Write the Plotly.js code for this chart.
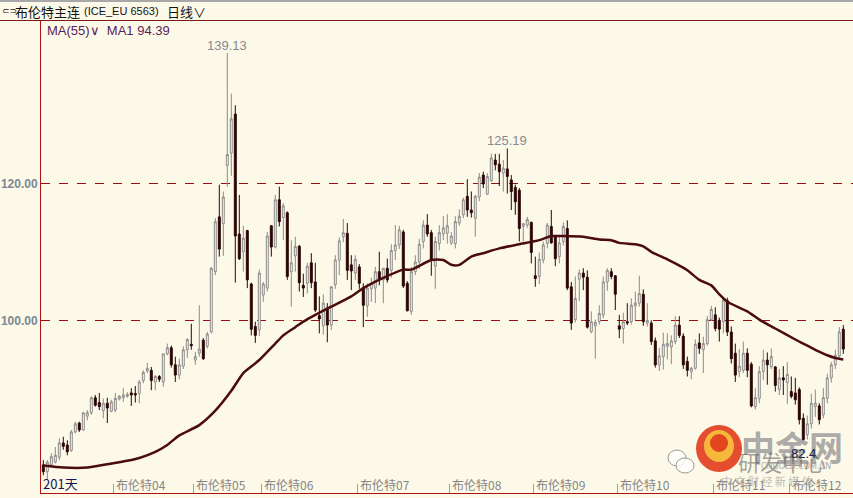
<!DOCTYPE html>
<html>
<head>
<meta charset="utf-8">
<script src="https://cdn.plot.ly/plotly-3.0.1.min.js"></script>
<style>
html,body{margin:0;padding:0;background:#FDF9E8;overflow:hidden;}
#chart{width:853px;height:498px;}
</style>
</head>
<body>
<div id="chart"></div>
<script>
// ---- Data ----
const openP = [79.0,78.0,79.0,79.4,80.1,82.2,81.9,81.1,83.8,85.1,84.1,86.1,86.6,88.8,88.1,86.9,88.0,86.8,87.0,88.6,
88.8,89.0,89.5,89.4,89.4,91.3,92.7,92.8,91.1,91.9,91.1,95.2,96.1,93.6,92.1,93.4,95.8,96.6,94.3,95.3,
97.2,96.3,98.4,107.2,115.2,114.2,122.7,124.5,130.2,112.7,110.1,113.2,105.4,99.2,98.7,103.8,104.8,113.9,110.8,117.7,
115.1,115.8,107.2,109.5,110.9,105.2,105.5,108.5,105.7,100.8,99.3,101.9,99.4,105.3,108.9,112.3,112.8,108.2,107.0,107.9,
104.8,102.2,104.7,104.8,107.2,106.0,107.7,107.4,110.3,111.1,113.0,105.5,101.4,107.2,108.6,111.6,114.0,112.9,108.0,111.3,
112.7,112.8,111.4,111.3,114.3,115.5,118.2,116.2,115.0,118.1,121.3,118.5,120.5,123.5,122.9,121.6,122.2,120.6,119.5,119.1,
113.8,114.0,114.4,106.6,106.5,108.9,111.3,113.8,112.3,109.4,111.6,113.5,105.0,100.2,106.1,107.0,106.4,98.4,99.3,99.9,
100.9,105.7,107.2,106.6,99.3,98.9,99.9,99.9,102.2,102.6,103.9,99.7,99.7,97.1,93.6,94.8,96.3,96.2,97.0,99.4,
97.8,94.1,92.6,93.1,96.8,95.8,96.7,100.2,100.9,100.1,99.9,103.0,98.4,95.3,92.6,92.8,95.3,93.7,87.5,88.7,
92.6,94.3,93.3,93.3,90.0,91.7,91.0,89.7,89.5,90.0,85.8,83.4,85.0,87.5,87.6,86.3,88.7,91.7,93.6,94.9,98.8];
const highP = [79.7,79.7,80.7,81.6,82.9,83.1,82.6,84.1,85.3,85.3,86.7,87.0,89.0,89.2,89.5,88.7,88.8,88.5,89.5,89.2,
90.2,89.6,90.2,90.5,91.4,92.8,93.9,93.3,92.1,92.1,95.2,96.7,96.4,94.8,94.5,96.3,97.5,99.6,95.5,102.3,
97.5,98.4,107.9,115.0,119.9,118.9,139.13,133.2,131.5,118.4,113.9,113.3,105.6,99.9,107.5,105.7,113.0,114.0,118.4,119.6,
117.2,116.0,111.8,112.3,111.1,106.9,108.5,109.9,108.5,103.6,103.9,102.6,105.0,109.6,112.2,114.9,114.3,109.6,109.6,108.3,
105.5,105.5,106.3,107.9,110.1,107.7,109.1,111.2,114.0,113.9,113.3,105.8,107.9,109.6,112.0,114.7,115.6,113.3,112.3,114.0,
115.3,115.6,113.0,115.3,116.3,118.0,120.7,118.9,118.4,121.6,121.8,121.6,124.4,124.4,124.4,123.5,125.19,121.3,119.9,119.4,
114.3,115.2,114.5,109.4,110.0,111.6,114.3,116.2,112.4,112.4,114.4,114.7,105.7,106.5,107.5,107.7,107.4,101.4,100.2,102.3,
106.5,107.7,107.7,106.7,100.9,101.2,102.6,103.3,104.3,106.6,104.6,102.6,100.1,97.6,96.1,98.3,98.2,97.9,100.7,100.7,
98.2,94.8,93.3,97.3,98.2,97.7,100.7,102.2,102.0,100.5,103.5,103.4,99.2,96.7,95.9,97.0,96.0,94.0,90.2,93.4,
95.8,95.4,96.0,93.4,93.0,93.4,94.0,91.9,91.7,90.3,86.5,86.2,89.4,90.0,88.0,90.2,92.3,94.0,95.8,99.1,99.4];
const lowP = [77.5,76.9,78.7,79.2,79.7,81.2,80.4,80.9,83.6,83.8,84.0,85.5,86.3,87.5,87.0,85.8,85.1,86.7,86.7,88.4,
88.2,88.8,87.6,88.1,88.0,90.9,92.4,89.9,89.9,91.1,90.4,95.0,93.2,91.1,91.5,93.0,94.6,95.8,93.6,94.8,
94.3,96.0,98.2,106.7,109.4,109.5,119.6,121.2,105.6,108.9,107.2,104.8,97.9,96.8,97.8,102.8,104.3,109.4,110.6,113.8,
111.8,106.0,102.1,107.2,104.3,103.5,104.0,104.8,101.3,98.2,98.0,96.9,98.7,104.7,106.7,111.5,106.0,104.5,106.0,104.7,
99.1,100.6,102.8,102.6,105.2,102.6,105.6,106.3,108.9,110.5,104.8,101.4,100.9,106.7,107.6,110.6,112.3,106.6,104.7,110.3,
111.8,111.3,111.1,110.6,113.9,115.0,115.2,115.1,112.3,117.5,119.4,118.4,120.3,122.0,119.7,118.9,118.6,116.2,115.5,111.6,
111.6,113.6,108.4,105.0,105.4,108.4,110.6,111.3,108.0,108.4,111.0,104.5,98.7,99.8,102.9,104.5,98.9,98.2,94.5,99.5,
100.4,104.4,106.1,101.6,97.5,96.7,99.4,99.5,100.1,102.1,99.3,99.2,96.5,93.2,92.7,92.9,94.4,93.7,96.6,97.5,
93.0,91.9,91.5,92.9,95.2,92.4,96.4,100.0,98.5,97.0,98.2,97.8,93.8,91.1,91.8,92.4,91.8,87.4,87.1,88.0,
91.4,90.7,93.0,89.7,89.2,89.2,87.9,88.7,87.8,84.9,82.4,82.7,84.3,86.0,84.9,85.8,88.0,91.0,93.0,94.6,95.2];
const closeP = [78.0,79.4,80.2,80.4,82.2,81.7,80.9,83.8,85.0,84.1,86.6,86.6,88.8,87.7,87.5,88.0,87.3,88.2,88.7,89.0,
89.2,89.3,89.2,89.2,91.1,92.5,93.1,91.3,91.9,91.5,95.2,96.1,93.6,92.1,93.6,95.8,97.3,96.4,94.8,95.9,
94.5,98.1,107.7,114.5,110.5,118.1,124.3,129.5,112.4,109.1,112.1,106.0,98.8,97.9,107.0,105.4,112.4,110.8,117.7,114.5,
116.8,106.5,108.5,110.9,105.6,104.8,108.0,105.6,101.6,100.3,102.6,99.4,105.0,108.9,111.7,112.9,107.4,107.3,109.0,105.5,
102.3,104.8,105.5,107.2,106.0,107.7,106.0,110.3,111.1,113.3,105.1,101.5,107.2,108.6,111.2,114.0,112.7,109.0,111.6,112.9,
113.6,113.9,112.4,114.5,115.3,117.7,116.2,115.8,118.2,121.0,120.0,121.1,123.8,122.8,121.8,122.3,121.1,118.9,117.4,113.5,
114.2,114.8,110.0,106.2,109.0,111.1,114.0,111.4,109.1,111.4,113.8,104.8,99.7,103.3,107.0,106.4,99.1,99.9,99.8,101.1,
105.7,107.4,106.5,103.9,98.8,99.9,99.7,102.3,102.6,104.0,99.9,100.1,97.0,93.6,94.9,96.6,96.7,97.1,99.4,97.9,
93.6,92.8,93.1,96.6,96.0,96.7,100.2,101.7,98.9,98.8,103.1,98.4,94.5,92.1,93.4,95.3,92.8,87.6,88.8,92.6,
94.3,93.6,94.8,90.6,91.7,91.4,92.2,89.0,88.5,85.6,82.7,85.0,88.0,88.0,85.6,88.8,91.7,93.6,95.0,98.4,95.9];

// MA(55) line (day index, value)
const maDay = [0,5,11,16,21,24,28,31,34,39,43,47,50,54,58,60,63,65,68,72,77,80,85,90,92,97,100,102,104,107,110,114,119,124,127,130,135,139,142,144,148,150,152,156,158,161,164,167,169,171,176,179,183,188,190,193,196,198,200];
const maVal = [78.9,78.6,78.6,79.1,79.6,80.0,80.9,81.9,83.3,84.8,86.9,89.8,92.4,94.3,96.7,97.9,99.1,99.9,100.9,102.1,103.6,104.8,106.3,107.5,107.5,108.9,108.9,108.2,108.2,109.4,109.9,110.6,111.2,111.8,112.4,112.4,112.3,111.9,111.8,111.4,111.2,110.9,110.1,109.0,108.4,107.4,106.0,105.2,103.9,102.8,101.4,100.2,98.9,97.3,96.7,95.8,95.0,94.6,94.39];

const monthTicks = [17.5,37.5,54.5,78.5,101.5,122.5,143.5,167.5,186.5];
const monthLabels = ["布伦特04","布伦特05","布伦特06","布伦特07","布伦特08","布伦特09","布伦特10","布伦特11","布伦特12"];
const yTickVals = [100,120];
const yTickText = ["100.00","120.00"];
const maxDay = 46, maxLabel = "139.13";
const hiDay = 116, hiLabel = "125.19";
const minDay = 190, minLabel = "82.4";
const dayCountLabel = "201天";

const days = openP.map((_, i) => i);

// ---- Layout helpers ----
const W = 853, H = 498, L = 41, T = 20, B = 5;
const PW = W - L, PH = H - T - B;
const px = x => (x - L) / PW;
const py = y => (H - B - y) / PH;
const BG = "#FDF9E8";

const candles = {
  type: "candlestick",
  x: days, open: openP, high: highP, low: lowP, close: closeP,
  increasing: {line: {color: "#8a8a8a", width: 1}, fillcolor: BG},
  decreasing: {line: {color: "#2a0606", width: 1}, fillcolor: "#2a0606"},
  whiskerwidth: 0,
  hoverinfo: "skip",
  showlegend: false
};
const ma = {
  type: "scatter", mode: "lines",
  x: maDay, y: maVal,
  line: {color: "#4a0c0c", width: 2.5, shape: "spline", smoothing: 0.6},
  hoverinfo: "skip", showlegend: false
};

const annotations = [];
monthTicks.forEach((t, i) => annotations.push({
  x: t, xref: "x", y: 0, yref: "paper", xanchor: "left", yanchor: "bottom",
  xshift: 1, yshift: -2, text: monthLabels[i], showarrow: false,
  font: {family: "Noto Sans CJK SC", size: 12, color: "#858585"}
}));
annotations.push({x: 0, xref: "paper", y: 0, yref: "paper", xanchor: "left", yanchor: "bottom",
  xshift: 0, yshift: -2, text: dayCountLabel, showarrow: false,
  font: {family: "Noto Sans CJK SC", size: 13, color: "#141450"}});
annotations.push({x: maxDay, xref: "x", y: highP[maxDay], yref: "y", xanchor: "center", yanchor: "bottom",
  yshift: -2, text: maxLabel, showarrow: false,
  font: {family: "Liberation Sans", size: 13, color: "#868a92"}});
annotations.push({x: hiDay, xref: "x", y: highP[hiDay], yref: "y", xanchor: "center", yanchor: "bottom",
  yshift: -2, text: hiLabel, showarrow: false,
  font: {family: "Liberation Sans", size: 13, color: "#868a92"}});
// title row
annotations.push({x: px(0), xref: "paper", y: py(11), yref: "paper", xanchor: "left", yanchor: "middle",
  text: "⊂⊃", showarrow: false, font: {family: "DejaVu Sans", size: 9, color: "#222"}});
annotations.push({x: px(13), xref: "paper", y: py(11), yref: "paper", xanchor: "left", yanchor: "middle",
  text: "布伦特主连", showarrow: false, font: {family: "Noto Sans CJK SC", size: 13, color: "#111"}});
annotations.push({x: px(82), xref: "paper", y: py(11), yref: "paper", xanchor: "left", yanchor: "middle",
  text: "(ICE_EU 6563)", showarrow: false, font: {family: "Liberation Sans", size: 11, color: "#111"}});
annotations.push({x: px(165), xref: "paper", y: py(11), yref: "paper", xanchor: "left", yanchor: "middle",
  text: "日线∨", showarrow: false, font: {family: "Noto Sans CJK SC", size: 13, color: "#111"}});
annotations.push({x: px(45), xref: "paper", y: py(30), yref: "paper", xanchor: "left", yanchor: "middle",
  text: "MA(55)∨  MA1 94.39", showarrow: false, font: {family: "Liberation Sans", size: 13, color: "#5a1e5a"}});
// watermark
annotations.push({x: px(792), xref: "paper", y: py(446), yref: "paper", xanchor: "center", yanchor: "middle",
  text: "<b>中金网</b>", showarrow: false, font: {family: "Noto Sans CJK SC", size: 34, color: "rgba(150,150,150,0.8)"}});
annotations.push({x: minDay, xref: "x", y: lowP[minDay], yref: "y", xanchor: "center", yanchor: "top",
  yshift: -2, text: minLabel, showarrow: false,
  font: {family: "Liberation Sans", size: 13, color: "#1a1a40"}});
annotations.push({x: px(782), xref: "paper", y: py(461), yref: "paper", xanchor: "center", yanchor: "middle",
  text: "研发中心", showarrow: false, font: {family: "Noto Sans CJK SC", size: 22, color: "rgba(70,70,70,0.5)"}});
annotations.push({x: px(796), xref: "paper", y: py(466), yref: "paper", xanchor: "center", yanchor: "middle",
  text: "CNGOLD.COM.CN", showarrow: false, font: {family: "DejaVu Sans", size: 8, color: "rgba(150,150,150,0.8)"}});
annotations.push({x: px(767), xref: "paper", y: py(481), yref: "paper", xanchor: "center", yanchor: "middle",
  text: "中 文 财 经 新 媒 体", showarrow: false, font: {family: "Noto Sans CJK SC", size: 11, color: "rgba(160,160,160,0.7)"}});

const shapes = [
  {type: "rect", xref: "paper", yref: "paper", x0: px(0), x1: px(W), y0: py(2), y1: py(0) + 0.01,
   fillcolor: "#a8a8a8", line: {width: 0}, layer: "above"},
  {type: "line", xref: "paper", yref: "paper", x0: px(0), x1: px(W), y0: py(20.5), y1: py(20.5),
   line: {color: "#7a1a1a", width: 1}},
  // logo
  {type: "circle", xref: "paper", yref: "paper", x0: px(696), x1: px(742), y0: py(472), y1: py(425),
   fillcolor: "rgba(226,62,30,0.92)", line: {width: 0}},
  {type: "circle", xref: "paper", yref: "paper", x0: px(704), x1: px(734), y0: py(462), y1: py(430),
   fillcolor: "rgba(247,190,60,0.95)", line: {width: 0}},
  {type: "circle", xref: "paper", yref: "paper", x0: px(710), x1: px(728), y0: py(452), y1: py(434),
   fillcolor: "rgba(226,62,30,0.95)", line: {width: 0}},
  // wechat bubbles
  {type: "circle", xref: "paper", yref: "paper", x0: px(668), x1: px(686), y0: py(466), y1: py(450),
   fillcolor: "rgba(255,255,255,0.6)", line: {color: "#999", width: 1}},
  {type: "circle", xref: "paper", yref: "paper", x0: px(676), x1: px(694), y0: py(473), y1: py(458),
   fillcolor: "rgba(255,255,255,0.8)", line: {color: "#999", width: 1}}
];

const layout = {
  width: W, height: H,
  margin: {l: L, r: 0, t: T, b: B, pad: 0},
  paper_bgcolor: BG, plot_bgcolor: BG,
  showlegend: false,
  xaxis: {
    range: [-0.575, 202.425], rangeslider: {visible: false},
    showgrid: false, zeroline: false,
    showline: true, linecolor: "#b01212", linewidth: 1,
    tickvals: monthTicks, ticks: "inside", ticklen: 9, tickcolor: "#a0a0a0", tickwidth: 1,
    showticklabels: false, fixedrange: true
  },
  yaxis: {
    range: [74.89, 143.94],
    tickvals: yTickVals, ticktext: yTickText.map(t => "<b>" + t + "</b>"),
    showgrid: true, gridcolor: "#9a1010", gridwidth: 1, griddash: "dash",
    zeroline: false, showline: true, linecolor: "#b01212", linewidth: 1,
    ticks: "", ticklen: 0,
    tickfont: {family: "Liberation Sans", size: 12, color: "#7b8794"},
    fixedrange: true
  },
  annotations: annotations,
  shapes: shapes
};

Plotly.newPlot("chart", [candles, ma], layout, {displayModeBar: false, staticPlot: true});
</script>
</body>
</html>
